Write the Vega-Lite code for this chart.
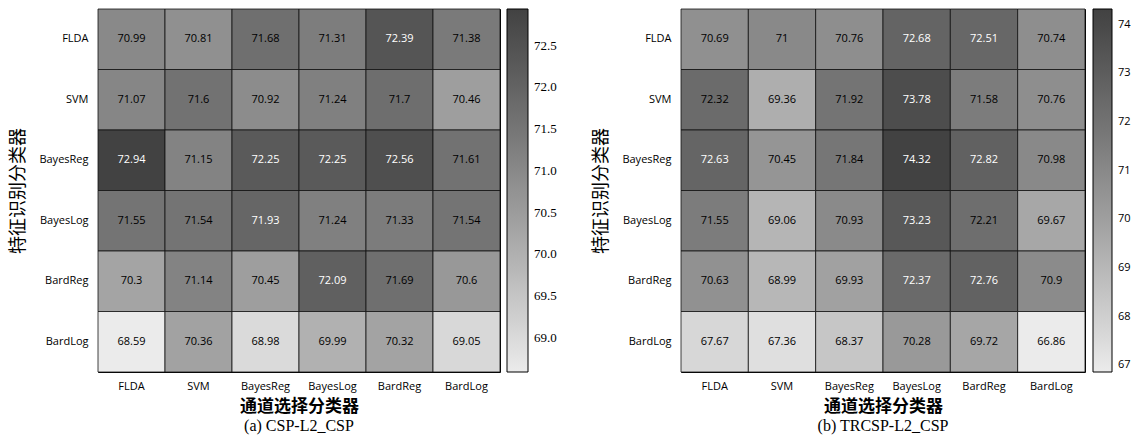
{
  "$schema": "https://vega.github.io/schema/vega-lite/v6.json",
  "background": "white",
  "padding": {"left": 9, "top": 8, "right": 5, "bottom": 0},
  "config": {
    "view": {"stroke": "#000", "strokeWidth": 1},
    "axis": {"labelFont": "Open Sans", "labelFontSize": 11, "labelColor": "#000", "ticks": false, "domain": false, "grid": false,
             "titleFont": "Noto Sans CJK SC", "titleFontSize": 17, "titleFontWeight": "bold", "titleColor": "#000"},
    "title": {"font": "Liberation Serif", "fontSize": 16, "fontWeight": "normal", "color": "#000"}
  },
  "data": {"values": [
    {"panel": "a", "row": "FLDA", "col": "FLDA", "v": 70.99},
    {"panel": "a", "row": "FLDA", "col": "SVM", "v": 70.81},
    {"panel": "a", "row": "FLDA", "col": "BayesReg", "v": 71.68},
    {"panel": "a", "row": "FLDA", "col": "BayesLog", "v": 71.31},
    {"panel": "a", "row": "FLDA", "col": "BardReg", "v": 72.39},
    {"panel": "a", "row": "FLDA", "col": "BardLog", "v": 71.38},
    {"panel": "a", "row": "SVM", "col": "FLDA", "v": 71.07},
    {"panel": "a", "row": "SVM", "col": "SVM", "v": 71.6},
    {"panel": "a", "row": "SVM", "col": "BayesReg", "v": 70.92},
    {"panel": "a", "row": "SVM", "col": "BayesLog", "v": 71.24},
    {"panel": "a", "row": "SVM", "col": "BardReg", "v": 71.7},
    {"panel": "a", "row": "SVM", "col": "BardLog", "v": 70.46},
    {"panel": "a", "row": "BayesReg", "col": "FLDA", "v": 72.94},
    {"panel": "a", "row": "BayesReg", "col": "SVM", "v": 71.15},
    {"panel": "a", "row": "BayesReg", "col": "BayesReg", "v": 72.25},
    {"panel": "a", "row": "BayesReg", "col": "BayesLog", "v": 72.25},
    {"panel": "a", "row": "BayesReg", "col": "BardReg", "v": 72.56},
    {"panel": "a", "row": "BayesReg", "col": "BardLog", "v": 71.61},
    {"panel": "a", "row": "BayesLog", "col": "FLDA", "v": 71.55},
    {"panel": "a", "row": "BayesLog", "col": "SVM", "v": 71.54},
    {"panel": "a", "row": "BayesLog", "col": "BayesReg", "v": 71.93},
    {"panel": "a", "row": "BayesLog", "col": "BayesLog", "v": 71.24},
    {"panel": "a", "row": "BayesLog", "col": "BardReg", "v": 71.33},
    {"panel": "a", "row": "BayesLog", "col": "BardLog", "v": 71.54},
    {"panel": "a", "row": "BardReg", "col": "FLDA", "v": 70.3},
    {"panel": "a", "row": "BardReg", "col": "SVM", "v": 71.14},
    {"panel": "a", "row": "BardReg", "col": "BayesReg", "v": 70.45},
    {"panel": "a", "row": "BardReg", "col": "BayesLog", "v": 72.09},
    {"panel": "a", "row": "BardReg", "col": "BardReg", "v": 71.69},
    {"panel": "a", "row": "BardReg", "col": "BardLog", "v": 70.6},
    {"panel": "a", "row": "BardLog", "col": "FLDA", "v": 68.59},
    {"panel": "a", "row": "BardLog", "col": "SVM", "v": 70.36},
    {"panel": "a", "row": "BardLog", "col": "BayesReg", "v": 68.98},
    {"panel": "a", "row": "BardLog", "col": "BayesLog", "v": 69.99},
    {"panel": "a", "row": "BardLog", "col": "BardReg", "v": 70.32},
    {"panel": "a", "row": "BardLog", "col": "BardLog", "v": 69.05},
    {"panel": "b", "row": "FLDA", "col": "FLDA", "v": 70.69},
    {"panel": "b", "row": "FLDA", "col": "SVM", "v": 71},
    {"panel": "b", "row": "FLDA", "col": "BayesReg", "v": 70.76},
    {"panel": "b", "row": "FLDA", "col": "BayesLog", "v": 72.68},
    {"panel": "b", "row": "FLDA", "col": "BardReg", "v": 72.51},
    {"panel": "b", "row": "FLDA", "col": "BardLog", "v": 70.74},
    {"panel": "b", "row": "SVM", "col": "FLDA", "v": 72.32},
    {"panel": "b", "row": "SVM", "col": "SVM", "v": 69.36},
    {"panel": "b", "row": "SVM", "col": "BayesReg", "v": 71.92},
    {"panel": "b", "row": "SVM", "col": "BayesLog", "v": 73.78},
    {"panel": "b", "row": "SVM", "col": "BardReg", "v": 71.58},
    {"panel": "b", "row": "SVM", "col": "BardLog", "v": 70.76},
    {"panel": "b", "row": "BayesReg", "col": "FLDA", "v": 72.63},
    {"panel": "b", "row": "BayesReg", "col": "SVM", "v": 70.45},
    {"panel": "b", "row": "BayesReg", "col": "BayesReg", "v": 71.84},
    {"panel": "b", "row": "BayesReg", "col": "BayesLog", "v": 74.32},
    {"panel": "b", "row": "BayesReg", "col": "BardReg", "v": 72.82},
    {"panel": "b", "row": "BayesReg", "col": "BardLog", "v": 70.98},
    {"panel": "b", "row": "BayesLog", "col": "FLDA", "v": 71.55},
    {"panel": "b", "row": "BayesLog", "col": "SVM", "v": 69.06},
    {"panel": "b", "row": "BayesLog", "col": "BayesReg", "v": 70.93},
    {"panel": "b", "row": "BayesLog", "col": "BayesLog", "v": 73.23},
    {"panel": "b", "row": "BayesLog", "col": "BardReg", "v": 72.21},
    {"panel": "b", "row": "BayesLog", "col": "BardLog", "v": 69.67},
    {"panel": "b", "row": "BardReg", "col": "FLDA", "v": 70.63},
    {"panel": "b", "row": "BardReg", "col": "SVM", "v": 68.99},
    {"panel": "b", "row": "BardReg", "col": "BayesReg", "v": 69.93},
    {"panel": "b", "row": "BardReg", "col": "BayesLog", "v": 72.37},
    {"panel": "b", "row": "BardReg", "col": "BardReg", "v": 72.76},
    {"panel": "b", "row": "BardReg", "col": "BardLog", "v": 70.9},
    {"panel": "b", "row": "BardLog", "col": "FLDA", "v": 67.67},
    {"panel": "b", "row": "BardLog", "col": "SVM", "v": 67.36},
    {"panel": "b", "row": "BardLog", "col": "BayesReg", "v": 68.37},
    {"panel": "b", "row": "BardLog", "col": "BayesLog", "v": 70.28},
    {"panel": "b", "row": "BardLog", "col": "BardReg", "v": 69.72},
    {"panel": "b", "row": "BardLog", "col": "BardLog", "v": 66.86}
  ]},
  "resolve": {"scale": {"color": "independent"}, "legend": {"color": "independent"}},
  "spacing": 34,
  "hconcat": [
    {
      "width": 402, "height": 363,
      "transform": [{"filter": "datum.panel === 'a'"}],
      "title": {"text": "(a) CSP-L2_CSP", "orient": "bottom", "offset": 4},
      "encoding": {
        "x": {"field": "col", "type": "nominal", "sort": ["FLDA", "SVM", "BayesReg", "BayesLog", "BardReg", "BardLog"],
              "axis": {"labelAngle": 0, "labelPadding": 8, "title": "通道选择分类器", "titlePadding": 7}},
        "y": {"field": "row", "type": "nominal", "sort": ["FLDA", "SVM", "BayesReg", "BayesLog", "BardReg", "BardLog"],
              "axis": {"labelPadding": 10, "title": "特征识别分类器", "titlePadding": 11, "titleFontWeight": "normal", "titleFontSize": 18}}
      },
      "layer": [
        {
          "mark": {"type": "rect", "stroke": "#111", "strokeWidth": 0.8},
          "encoding": {
            "color": {"field": "v", "type": "quantitative",
                      "scale": {"domain": [68.59, 72.94], "range": ["#ebebeb", "#424242"], "nice": false, "zero": false},
                      "legend": {"title": null, "gradientLength": 363, "gradientThickness": 21, "offset": 7,
                                 "values": [69.0, 69.5, 70.0, 70.5, 71.0, 71.5, 72.0, 72.5], "format": ".1f",
                                 "labelFont": "Liberation Serif", "labelFontSize": 13, "labelColor": "#000", "labelOffset": 6,
                                 "gradientStrokeColor": "#000", "gradientStrokeWidth": 1}}
          }
        },
        {
          "mark": {"type": "text", "font": "Open Sans", "fontSize": 11},
          "encoding": {
            "text": {"field": "v", "type": "quantitative"},
            "color": {"condition": {"test": "datum.v > 71.8", "value": "white"}, "value": "black"}
          }
        }
      ]
    },
    {
      "width": 404, "height": 363,
      "transform": [{"filter": "datum.panel === 'b'"}],
      "title": {"text": "(b) TRCSP-L2_CSP", "orient": "bottom", "offset": 4},
      "encoding": {
        "x": {"field": "col", "type": "nominal", "sort": ["FLDA", "SVM", "BayesReg", "BayesLog", "BardReg", "BardLog"],
              "axis": {"labelAngle": 0, "labelPadding": 8, "title": "通道选择分类器", "titlePadding": 7}},
        "y": {"field": "row", "type": "nominal", "sort": ["FLDA", "SVM", "BayesReg", "BayesLog", "BardReg", "BardLog"],
              "axis": {"labelPadding": 10, "title": "特征识别分类器", "titlePadding": 11, "titleFontWeight": "normal", "titleFontSize": 18}}
      },
      "layer": [
        {
          "mark": {"type": "rect", "stroke": "#111", "strokeWidth": 0.8},
          "encoding": {
            "color": {"field": "v", "type": "quantitative",
                      "scale": {"domain": [66.86, 74.32], "range": ["#ebebeb", "#424242"], "nice": false, "zero": false},
                      "legend": {"title": null, "gradientLength": 363, "gradientThickness": 19, "offset": 8,
                                 "values": [67, 68, 69, 70, 71, 72, 73, 74], "format": "d",
                                 "labelFont": "Open Sans", "labelFontSize": 11, "labelColor": "#000", "labelOffset": 6,
                                 "gradientStrokeColor": "#000", "gradientStrokeWidth": 1}}
          }
        },
        {
          "mark": {"type": "text", "font": "Open Sans", "fontSize": 11},
          "encoding": {
            "text": {"field": "v", "type": "quantitative"},
            "color": {"condition": {"test": "datum.v > 72.35", "value": "white"}, "value": "black"}
          }
        }
      ]
    }
  ]
}
